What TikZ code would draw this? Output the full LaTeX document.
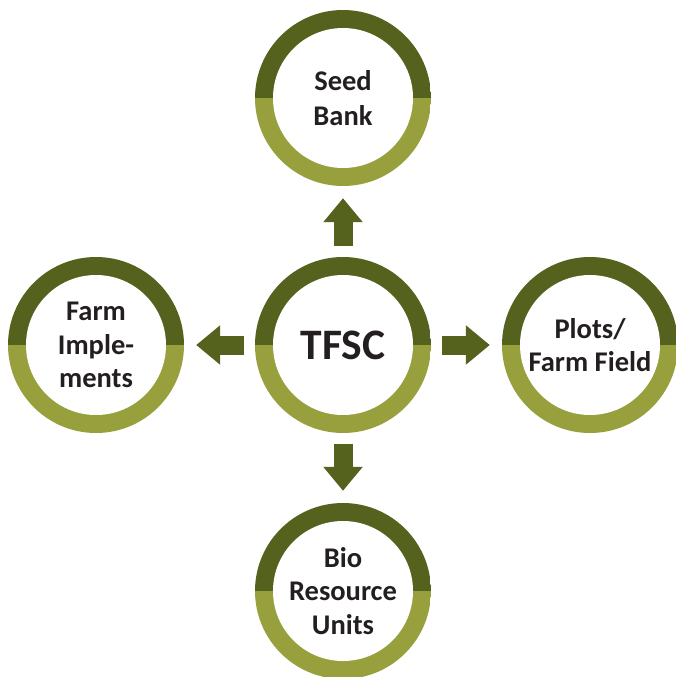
\documentclass[tikz,border=0pt]{standalone}
\usepackage{fontspec}
\setmainfont{Carlito}
\usepackage{tikz}
\usetikzlibrary{arrows.meta}

\definecolor{leafdark}{RGB}{85,98,30}
\definecolor{leaflight}{RGB}{152,160,62}
\definecolor{inkgray}{RGB}{35,31,32}

\begin{document}
\begin{tikzpicture}[x=1pt,y=1pt,
    hub/.style={circle,minimum size=176pt,inner sep=0pt,align=center,
        text=inkgray,font=\bfseries\fontsize{28.5}{33.5}\selectfont,
        path picture={
          \fill[leafdark] (path picture bounding box.west) rectangle (path picture bounding box.north east);
          \fill[leaflight] (path picture bounding box.west) rectangle (path picture bounding box.south east);
          \fill[white] (path picture bounding box.center) circle (70);
        }},
    flow/.style={draw=leafdark,line width=19pt,
        -{Triangle[width=38pt,length=24pt]},shorten <=11pt,shorten >=12pt}]
      \useasboundingbox (0,0) rectangle (676,-677);
      \node[hub,font=\bfseries\fontsize{43.5}{50}\selectfont] (tfsc) at (343,-345) {TFSC};
      \node[hub,font=\bfseries\fontsize{28.5}{35}\selectfont] (seed) at (343,-98) {Seed\\Bank};
      \node[hub] (farm) at (96,-345) {Farm\\Imple-\\ments};
      \node[hub] (plots) at (590,-345) {Plots/\\Farm Field};
      \node[hub] (bio) at (343,-591) {Bio\\Resource\\Units};
      \path
      (tfsc) edge [flow] (seed)
      (tfsc) edge [flow] (farm)
      (tfsc) edge [flow] (plots)
      (tfsc) edge [flow] (bio);
\end{tikzpicture}
\end{document}
